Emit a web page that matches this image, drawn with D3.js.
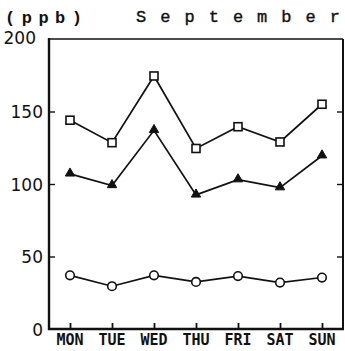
<!DOCTYPE html>
<html>
<head>
<meta charset="utf-8">
<script src="https://cdn.jsdelivr.net/npm/d3@7"></script>
<style>
  html, body { margin: 0; padding: 0; background: #fff; }
  svg { display: block; }
</style>
</head>
<body>
<svg id="chart" width="345" height="351"></svg>
<script>
// Days of the week and daily mean concentrations (ppb) for September
const days = ["MON", "TUE", "WED", "THU", "FRI", "SAT", "SUN"];
const squareSeries = [144, 128.5, 174.5, 124.5, 139.5, 129, 155];
const triangleSeries = [107, 99, 137, 92.5, 103, 97.5, 119.5];
const circleSeries = [37, 29.5, 37, 32.5, 36.5, 32, 35.5];
const yTicks = [0, 50, 100, 150, 200];

const svg = d3.select("#chart");
const m = { left: 49, right: 343, top: 39, bottom: 329 };

const x = d3.scalePoint().domain(days).range([m.left, m.right]).padding(0.5);
const y = d3.scaleLinear().domain([0, 200]).range([m.bottom, m.top]);

const ink = "#111";

// Frame
svg.append("line").attr("x1", m.left).attr("x2", m.right).attr("y1", m.top).attr("y2", m.top)
  .attr("stroke", ink).attr("stroke-width", 1.6);
svg.append("line").attr("x1", m.right).attr("x2", m.right).attr("y1", m.top).attr("y2", m.bottom)
  .attr("stroke", ink).attr("stroke-width", 2);
svg.append("line").attr("x1", m.left).attr("x2", m.left).attr("y1", m.top - 1).attr("y2", m.bottom + 1)
  .attr("stroke", ink).attr("stroke-width", 2.4);
svg.append("line").attr("x1", m.left - 1).attr("x2", m.right + 1).attr("y1", m.bottom).attr("y2", m.bottom)
  .attr("stroke", ink).attr("stroke-width", 2.4);

// Left axis: ticks pointing inward, labels to the left
const yAxis = svg.append("g").attr("transform", `translate(${m.left},0)`)
  .call(d3.axisRight(y).tickValues(yTicks.filter(d => d > 0 && d < 200)).tickSize(6).tickFormat(""));
yAxis.select(".domain").remove();
yAxis.selectAll("line").attr("stroke", ink).attr("stroke-width", 1.4);

svg.append("g").selectAll("text").data(yTicks).join("text")
  .attr("x", d => d === 200 ? 36 : 43)
  .attr("y", d => d === 200 ? y(d) + 5 : y(d) + 6.5)
  .attr("text-anchor", "end")
  .attr("font-family", "DejaVu Sans")
  .attr("font-size", 17)
  .attr("fill", ink)
  .text(d => d);

// Right axis ticks pointing inward
const yAxisR = svg.append("g").attr("transform", `translate(${m.right},0)`)
  .call(d3.axisLeft(y).tickValues([50, 100, 150]).tickSize(6).tickFormat(""));
yAxisR.select(".domain").remove();
yAxisR.selectAll("line").attr("stroke", ink).attr("stroke-width", 1.4);

// Bottom axis: ticks pointing up, day labels below
const xAxis = svg.append("g").attr("transform", `translate(0,${m.bottom})`)
  .call(d3.axisTop(x).tickSize(6).tickFormat(""));
xAxis.select(".domain").remove();
xAxis.selectAll("line").attr("stroke", ink).attr("stroke-width", 1.8);

svg.append("g").selectAll("text").data(days).join("text")
  .attr("x", d => x(d))
  .attr("y", 345)
  .attr("text-anchor", "middle")
  .attr("font-family", "DejaVu Sans Mono")
  .attr("font-weight", "bold")
  .attr("font-size", 15)
  .attr("fill", ink)
  .text(d => d);

// Titles, spread across a fixed width
svg.append("text").attr("x", 5).attr("y", 23)
  .attr("font-family", "Liberation Mono").attr("font-weight", "bold").attr("font-size", 17)
  .attr("textLength", 77).attr("lengthAdjust", "spacing")
  .attr("fill", ink).text("(ppb)");
svg.append("text").attr("x", 136).attr("y", 22)
  .attr("font-family", "Liberation Mono").attr("font-size", 17)
  .attr("stroke", ink).attr("stroke-width", 0.4)
  .attr("textLength", 204).attr("lengthAdjust", "spacing")
  .attr("fill", ink).text("September");

// Series lines and markers
const line = d3.line().x((d, i) => x(days[i])).y(d => y(d));
function drawLine(values) {
  svg.append("path").datum(values).attr("d", line)
    .attr("fill", "none").attr("stroke", ink).attr("stroke-width", 1.7);
}
drawLine(squareSeries);
drawLine(triangleSeries);
drawLine(circleSeries);

svg.append("g").selectAll("rect").data(squareSeries).join("rect")
  .attr("x", (d, i) => x(days[i]) - 4).attr("y", d => y(d) - 4)
  .attr("width", 8).attr("height", 8)
  .attr("fill", "#fff").attr("stroke", ink).attr("stroke-width", 1.6);

const tri = d3.symbol().type(d3.symbolTriangle).size(38);
svg.append("g").selectAll("path").data(triangleSeries).join("path")
  .attr("transform", (d, i) => `translate(${x(days[i])},${y(d) - 0.5})`)
  .attr("d", tri)
  .attr("fill", ink).attr("stroke", ink).attr("stroke-width", 1);

svg.append("g").selectAll("circle").data(circleSeries).join("circle")
  .attr("cx", (d, i) => x(days[i])).attr("cy", d => y(d))
  .attr("r", 4.3)
  .attr("fill", "#fff").attr("stroke", ink).attr("stroke-width", 1.6);
</script>
</body>
</html>
